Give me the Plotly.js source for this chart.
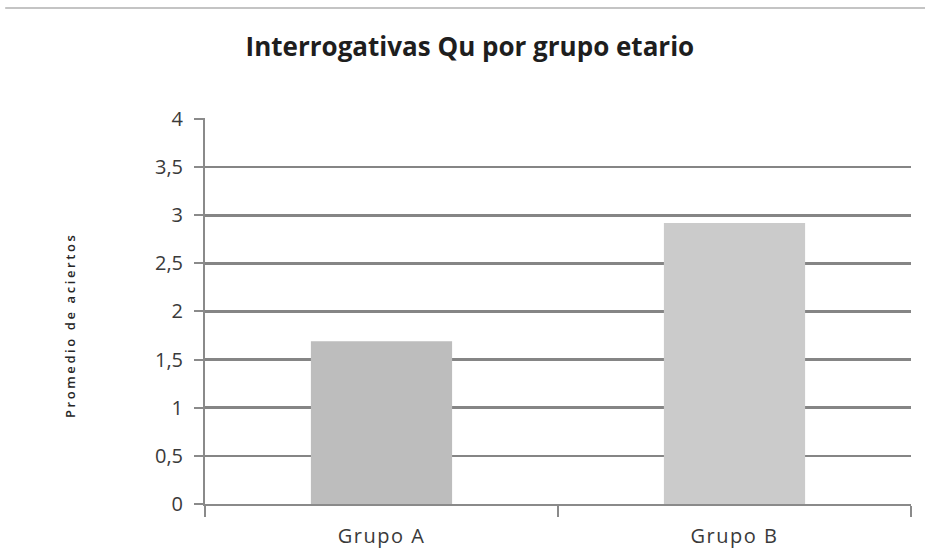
<!DOCTYPE html>
<html>
<head>
<meta charset="utf-8">
<script src="https://cdn.plot.ly/plotly-3.0.1.min.js"></script>
<style>
html,body{margin:0;padding:0;background:#fff;}
#chart{width:925px;height:557px;}
/* widen the spacing of the category labels and the axis caption */
#chart .xtick text{letter-spacing:1.5px;}
#chart .annotation-text{letter-spacing:2.6px;}
</style>
</head>
<body>
<div id="chart"></div>
<script>
// Promedio de aciertos en interrogativas Qu, por grupo etario
const grupos = ["Grupo A", "Grupo B"];
const promedios = [1.69, 2.92];
const coloresBarras = ["#bdbdbd", "#cbcbcb"];
const yTicks = [0, 0.5, 1, 1.5, 2, 2.5, 3, 3.5, 4];

const trace = {
  type: "bar",
  x: grupos,
  y: promedios,
  marker: { color: coloresBarras, line: { width: 0 } },
  hoverinfo: "x+y"
};

const fuente = "Open Sans, sans-serif";

const layout = {
  width: 925,
  height: 557,
  separators: ",.",
  margin: { l: 205, r: 14, t: 118, b: 53 },
  paper_bgcolor: "#ffffff",
  plot_bgcolor: "#ffffff",
  showlegend: false,
  bargap: 0.6,
  title: {
    text: "<b>Interrogativas Qu por grupo etario</b>",
    font: { family: fuente, size: 26, color: "#1e1e1e" },
    x: 0.508, xanchor: "center",
    y: 0.915, yanchor: "middle"
  },
  xaxis: {
    type: "category",
    tickson: "boundaries",
    ticks: "outside",
    ticklen: 11,
    tickwidth: 2,
    tickcolor: "#8a8a8a",
    showline: true,
    linecolor: "#8a8a8a",
    linewidth: 2,
    showgrid: false,
    tickfont: { family: fuente, size: 20, color: "#3a3a3a" },
    ticklabelstandoff: 13
  },
  yaxis: {
    range: [0, 4.01],
    tickvals: yTicks,
    tickformat: ".1~f",
    ticks: "outside",
    ticklen: 9,
    tickwidth: 2,
    tickcolor: "#8a8a8a",
    showline: true,
    linecolor: "#8a8a8a",
    linewidth: 2,
    showgrid: true,
    gridcolor: "#858585",
    gridwidth: 2.7,
    zeroline: false,
    tickfont: { family: fuente, size: 20, color: "#3a3a3a" },
    ticklabelstandoff: 7
  },
  annotations: [
    {
      text: "Promedio de aciertos",
      textangle: -90,
      xref: "paper", yref: "paper",
      x: -0.191, y: 0.464,
      xanchor: "center", yanchor: "middle",
      showarrow: false,
      font: { family: fuente, size: 13, color: "#262626", weight: 600 }
    }
  ],
  shapes: [
    {
      type: "line", xref: "paper", yref: "paper",
      x0: -0.283, x1: 1.03, y0: 1.285, y1: 1.285,
      line: { color: "#c4c4c4", width: 2 }
    }
  ]
};

Plotly.newPlot("chart", [trace], layout, { displayModeBar: false, staticPlot: true });
</script>
</body>
</html>
